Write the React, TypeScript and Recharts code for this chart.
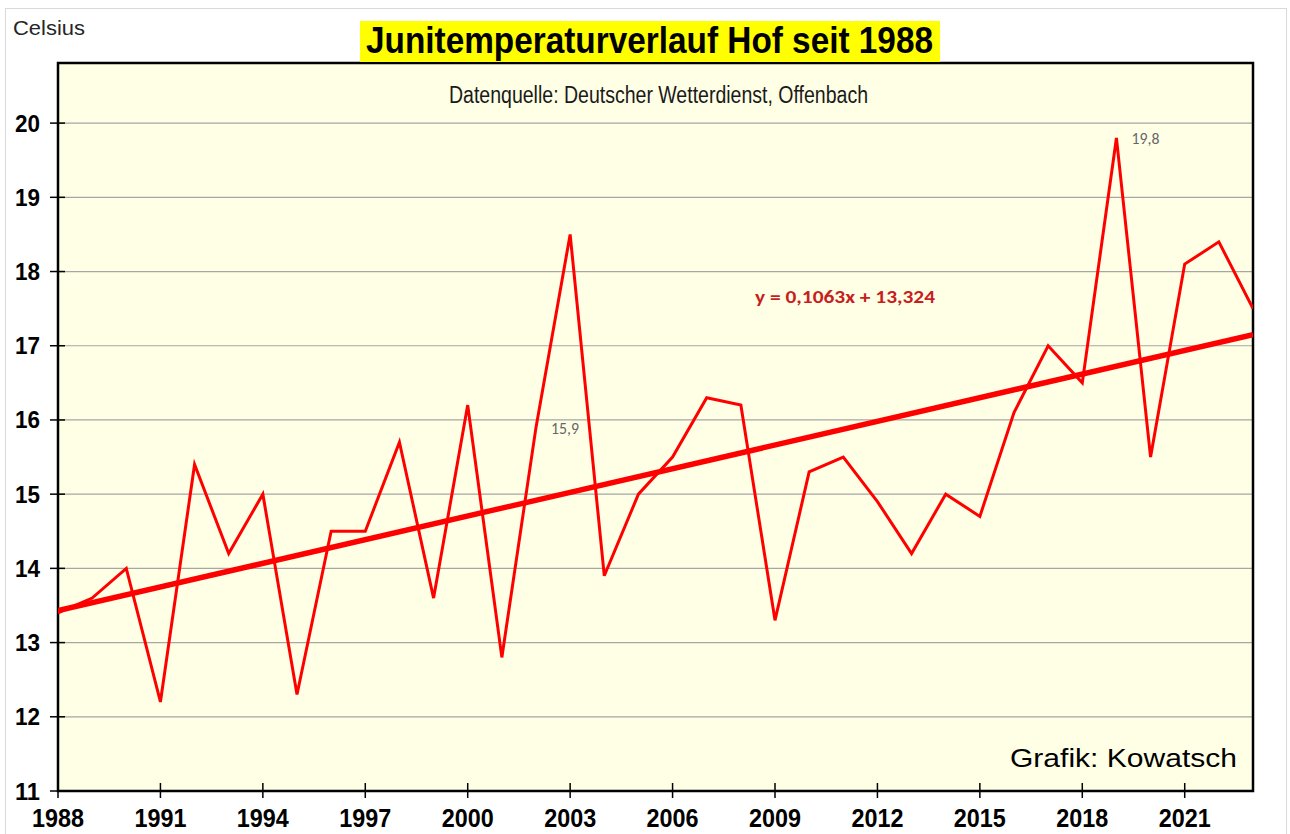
import React from "react";
import {
  LineChart,
  Line,
  XAxis,
  YAxis,
  CartesianGrid,
  ReferenceArea,
} from "recharts";

const years = [
  1988, 1989, 1990, 1991, 1992, 1993, 1994, 1995, 1996, 1997, 1998, 1999,
  2000, 2001, 2002, 2003, 2004, 2005, 2006, 2007, 2008, 2009, 2010, 2011,
  2012, 2013, 2014, 2015, 2016, 2017, 2018, 2019, 2020, 2021, 2022, 2023,
];
const juneTemps = [
  13.4, 13.6, 14.0, 12.2, 15.4, 14.2, 15.0, 12.3, 14.5, 14.5, 15.7, 13.6,
  16.2, 12.8, 15.9, 18.5, 13.9, 15.0, 15.5, 16.3, 16.2, 13.3, 15.3, 15.5,
  14.9, 14.2, 15.0, 14.7, 16.1, 17.0, 16.5, 19.8, 15.5, 18.1, 18.4, 17.5,
];
// trend line ends
const trendYears = [1988, 2023];
const trendTemps = [13.43, 17.15];
const labeledYears = [2002, 2019];
const xTicks = [1988, 1991, 1994, 1997, 2000, 2003, 2006, 2009, 2012, 2015, 2018, 2021];
const yTicks = [11, 12, 13, 14, 15, 16, 17, 18, 19, 20];

const data = years.map((year, i) => ({ year, temp: juneTemps[i] }));
const trend = trendYears.map((year, i) => ({ year, trend: trendTemps[i] }));

const FONT = "'Liberation Sans', Arial, sans-serif";

function YTick(props: any) {
  const { x, y, payload } = props;
  return (
    <g>
      <line x1={x - 8} x2={x + 7} y1={y} y2={y} stroke="#000" strokeWidth={1.5} />
      <text
        x={x - 18}
        y={y}
        textAnchor="end"
        dominantBaseline="central"
        fontFamily={FONT}
        fontWeight="bold"
        fontSize={24}
        fill="#000"
        textLength={25}
        lengthAdjust="spacingAndGlyphs"
      >
        {payload.value}
      </text>
    </g>
  );
}

function XTick(props: any) {
  const { x, y, payload } = props;
  return (
    <g>
      <line x1={x} x2={x} y1={y - 8} y2={y + 7} stroke="#000" strokeWidth={1.5} />
      <text
        x={x}
        y={y + 27}
        textAnchor="middle"
        dominantBaseline="central"
        fontFamily={FONT}
        fontWeight="bold"
        fontSize={25}
        fill="#000"
        textLength={52}
        lengthAdjust="spacingAndGlyphs"
      >
        {payload.value}
      </text>
    </g>
  );
}

function PointLabel(props: any) {
  const { x, y, index } = props;
  if (!labeledYears.includes(years[index])) return <g />;
  return (
    <text
      x={x + 15}
      y={y + 1}
      dominantBaseline="central"
      fontFamily="Carlito, 'Liberation Sans', sans-serif"
      fontSize={16}
      fill="#666666"
      textLength={28}
      lengthAdjust="spacingAndGlyphs"
    >
      {String(juneTemps[index]).replace(".", ",")}
    </text>
  );
}

export default function App() {
  return (
    <div
      style={{
        position: "absolute",
        left: 0,
        top: 0,
        width: 1290,
        height: 834,
        background: "#fff",
        overflow: "hidden",
      }}
    >
      <div
        style={{
          position: "absolute",
          left: 5,
          top: 8,
          width: 1280,
          height: 840,
          border: "1px solid #D9D9D9",
        }}
      />
      <div style={{ position: "absolute", left: 0, top: 0 }}>
        <LineChart
          width={1290}
          height={834}
          data={data}
          margin={{ top: 63, right: 37, bottom: 0, left: 0 }}
        >
          <CartesianGrid
            vertical={false}
            stroke="#A6A6A6"
            strokeWidth={1.2}
            fill="#FFFFE6"
            fillOpacity={1}
          />
          <XAxis
            dataKey="year"
            type="number"
            domain={[1988, 2023]}
            ticks={xTicks}
            interval={0}
            allowDataOverflow
            axisLine={false}
            tickLine={false}
            tickSize={0}
            tickMargin={0}
            height={43}
            tick={<XTick />}
          />
          <YAxis
            type="number"
            domain={[11, 20.81]}
            ticks={yTicks}
            interval={0}
            allowDataOverflow
            axisLine={false}
            tickLine={false}
            tickSize={0}
            tickMargin={0}
            width={58}
            tick={<YTick />}
          />
          <ReferenceArea
            x1={1988}
            x2={2023}
            y1={11}
            y2={20.81}
            fill="none"
            stroke="#000"
            strokeWidth={2.5}
          />
          <Line
            dataKey="temp"
            type="linear"
            stroke="#FF0000"
            strokeWidth={3}
            dot={false}
            isAnimationActive={false}
            label={<PointLabel />}
          />
          <Line
            data={trend}
            dataKey="trend"
            type="linear"
            stroke="#FF0000"
            strokeWidth={5.5}
            dot={false}
            isAnimationActive={false}
          />
        </LineChart>
      </div>
      <svg
        width={1290}
        height={834}
        style={{ position: "absolute", left: 0, top: 0, pointerEvents: "none" }}
      >
        <text
          x={13}
          y={35}
          fontFamily={FONT}
          fontSize={20}
          fill="#262626"
          textLength={72}
          lengthAdjust="spacingAndGlyphs"
        >
          Celsius
        </text>
        <rect x={360} y={21} width={580} height={41} fill="#FFFF00" />
        <text
          x={366}
          y={53}
          fontFamily={FONT}
          fontWeight="bold"
          fontSize={37}
          fill="#000"
          textLength={567}
          lengthAdjust="spacingAndGlyphs"
        >
          Junitemperaturverlauf Hof seit 1988
        </text>
        <text
          x={449}
          y={103}
          fontFamily={FONT}
          fontSize={23}
          fill="#1a1a1a"
          textLength={419}
          lengthAdjust="spacingAndGlyphs"
        >
          Datenquelle: Deutscher Wetterdienst, Offenbach
        </text>
        <text
          x={755}
          y={303}
          fontFamily="Carlito, 'Liberation Sans', sans-serif"
          fontWeight="bold"
          fontSize={18}
          fill="#C81E1E"
          textLength={180}
          lengthAdjust="spacingAndGlyphs"
        >
          y = 0,1063x + 13,324
        </text>
        <text
          x={1010}
          y={767}
          fontFamily={FONT}
          fontSize={26}
          fill="#000"
          textLength={227}
          lengthAdjust="spacingAndGlyphs"
        >
          Grafik: Kowatsch
        </text>
      </svg>
    </div>
  );
}
